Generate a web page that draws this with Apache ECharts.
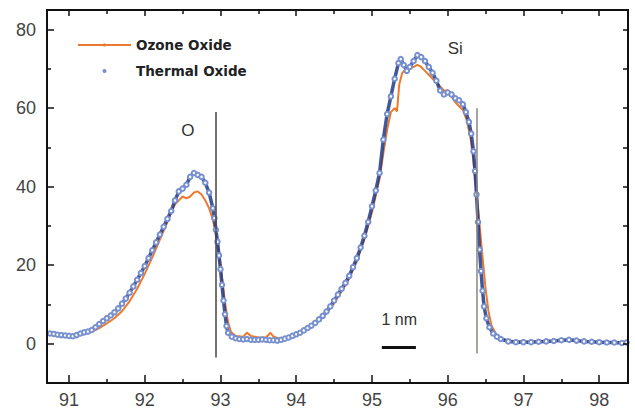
<!DOCTYPE html>
<html>
<head>
<meta charset="utf-8">
<script src="https://cdn.jsdelivr.net/npm/echarts@6/dist/echarts.min.js"></script>
<style>html,body{margin:0;padding:0;background:#fff;}#c{width:635px;height:416px;}</style>
</head>
<body>
<div id="c"></div>
<script>
// ---- data ----
const seriesNames = ['Ozone Oxide', 'Thermal Oxide'];
const xTickLabels = [91, 92, 93, 94, 95, 96, 97, 98];
const xMinorTicks = [91.5, 92.5, 93.5, 94.5, 95.5, 96.5, 97.5];
const yTickLabels = [0, 20, 40, 60, 80];
const yMinorTicks = [10, 30, 50, 70];
const yRightTicks = [0, 10, 20, 30, 40, 50, 60, 70, 80];

const thermalX = [90.70,90.75,90.80,90.85,90.90,90.95,91.00,91.05,91.10,91.15,91.20,91.25,91.30,91.35,91.40,91.45,91.50,91.55,91.60,91.65,91.70,91.75,91.80,91.85,91.90,91.95,92.00,92.05,92.10,92.15,92.20,92.25,92.30,92.35,92.40,92.45,92.50,92.55,92.60,92.65,92.70,92.75,92.80,92.85,92.90,92.92,92.94,92.96,92.98,93.00,93.02,93.04,93.06,93.08,93.10,93.15,93.20,93.25,93.30,93.35,93.40,93.45,93.50,93.55,93.60,93.65,93.70,93.75,93.80,93.85,93.90,93.95,94.00,94.05,94.10,94.15,94.20,94.25,94.30,94.35,94.40,94.45,94.50,94.55,94.60,94.65,94.70,94.75,94.80,94.85,94.90,94.95,95.00,95.05,95.10,95.15,95.20,95.25,95.30,95.35,95.38,95.42,95.46,95.50,95.55,95.60,95.65,95.70,95.75,95.80,95.85,95.90,95.95,96.00,96.05,96.10,96.15,96.20,96.24,96.28,96.31,96.34,96.36,96.38,96.40,96.42,96.44,96.46,96.48,96.51,96.55,96.60,96.65,96.70,96.80,96.90,97.00,97.10,97.20,97.30,97.40,97.50,97.60,97.70,97.80,97.90,98.00,98.10,98.20,98.30,98.36];
const thermalY = [2.8,2.6,2.5,2.3,2.2,2.1,2.0,1.9,2.2,2.6,2.9,3.1,3.5,4.2,5.0,5.8,6.5,7.2,8.0,9.0,10.2,11.5,13.0,14.6,16.3,18.0,19.8,21.8,23.8,25.8,27.8,29.8,31.8,33.8,36.5,38.8,39.5,40.5,42.5,43.5,43.0,42.5,41.0,38.5,34.5,32,29,26,22.5,19,15,11,7.5,4.5,2.8,1.8,1.4,1.2,1.1,1.2,1.0,1.0,1.0,1.1,1.0,0.9,0.9,0.8,1.0,1.3,1.6,2.0,2.4,2.8,3.4,4.0,4.6,5.3,6.2,7.1,8.2,9.5,11.0,12.5,14.0,15.5,17.3,19.5,21.8,24.5,27.5,31,35,39,43.5,52,58.5,63,67.5,71.5,72.5,71,69.5,70.5,72,73.5,73,72,70.5,69,67,64.5,63.5,64,63.5,62.5,62,61,59,56.5,53.5,49,44,38,31,24,18.5,13.5,9.5,6.5,4.2,2.6,1.8,1.2,0.6,0.4,0.4,0.4,0.5,0.6,0.7,0.9,1.0,0.8,0.6,0.5,0.4,0.3,0.3,0.2,0.3];

const ozoneX = [90.70,90.80,90.90,91.00,91.10,91.20,91.30,91.40,91.50,91.60,91.70,91.80,91.90,92.00,92.10,92.20,92.30,92.35,92.40,92.45,92.50,92.55,92.60,92.65,92.70,92.75,92.80,92.85,92.90,92.94,92.98,93.02,93.06,93.10,93.14,93.20,93.30,93.35,93.40,93.50,93.60,93.66,93.70,93.80,93.90,94.00,94.10,94.20,94.30,94.40,94.50,94.60,94.70,94.80,94.90,95.00,95.10,95.15,95.20,95.25,95.30,95.33,95.36,95.40,95.45,95.50,95.55,95.60,95.65,95.70,95.75,95.80,95.85,95.90,95.95,96.00,96.05,96.10,96.15,96.20,96.25,96.30,96.34,96.38,96.42,96.46,96.50,96.54,96.58,96.64,96.70,96.80,97.00,97.50,98.00,98.36];
const ozoneY = [2.5,2.2,2.0,1.8,2.0,2.5,3.0,4.0,5.2,6.5,8.3,10.8,14.0,17.8,22.0,26.5,31.0,33.5,35.5,36.5,37.5,37.0,37.5,38.5,38.8,38.0,36.5,34.5,31.5,28,23.5,17,10.5,5.5,3.0,2.0,1.8,2.8,2.0,1.6,1.6,2.8,1.8,1.2,1.6,2.2,3.2,4.4,5.9,7.8,10.3,13.3,16.6,21.0,26.5,33.5,42,48.5,54.5,59,60,59.2,66,69,70,70.5,70.5,71,70.5,69.5,68.5,67.5,66.5,65.5,64.5,64.5,63,61.5,60.5,59.5,57,52.5,46.5,39,30.5,22,14,8.0,4.5,2.4,1.5,0.8,0.5,0.8,0.4,0.3];

// annotations in data units
const oEdgeLine = [[92.94, 59], [92.94, -3.5]];
const siEdgeLine = [[96.38, 60], [96.38, -2.5]];
const scaleBar = [[95.13, -0.8], [95.58, -0.8]];
const textNotes = [['O', 92.57, 54.2], ['Si', 96.1, 75.2], ['1 nm', 95.36, 6.1]];

const X_MIN = 90.71, X_MAX = 98.38, Y_MIN = -10, Y_MAX = 85;

// layout (pixels)
const GRID = { left: 47, right: 7, top: 10, bottom: 33 };
const W = 635, H = 416;
const pxPerX = (W - GRID.left - GRID.right) / (X_MAX - X_MIN);
const pxPerY = (H - GRID.top - GRID.bottom) / (Y_MAX - Y_MIN);

const pair = (xs, ys) => xs.map((x, i) => [x, ys[i]]);

// tick segments expressed through the axis scales
const tickStyle = { color: '#111', width: 1.5, type: 'solid' };
const frameStyle = { color: '#111', width: 2, type: 'solid' };
const seg = (a, b, style) => [{ coord: a, lineStyle: style }, { coord: b }];
const tickLines = []
  .concat(xTickLabels.map(v => seg([v, Y_MIN], [v, Y_MIN + 8 / pxPerY], tickStyle)))
  .concat(xMinorTicks.map(v => seg([v, Y_MIN], [v, Y_MIN + 4 / pxPerY], tickStyle)))
  .concat(xTickLabels.map(v => seg([v, Y_MAX], [v, Y_MAX - 6 / pxPerY], tickStyle)))
  .concat(xMinorTicks.map(v => seg([v, Y_MAX], [v, Y_MAX - 4 / pxPerY], tickStyle)))
  .concat(yTickLabels.map(v => seg([X_MIN, v], [X_MIN + 7 / pxPerX, v], tickStyle)))
  .concat(yMinorTicks.map(v => seg([X_MIN, v], [X_MIN + 4 / pxPerX, v], tickStyle)))
  .concat(yRightTicks.map(v => seg([X_MAX, v], [X_MAX - 5 / pxPerX, v], tickStyle)))
  .concat([
    seg([X_MIN, Y_MAX], [X_MAX, Y_MAX], frameStyle),
    seg([X_MAX, Y_MIN], [X_MAX, Y_MAX], frameStyle),
    seg([X_MIN, Y_MIN], [X_MAX, Y_MIN], frameStyle),
    seg([X_MIN, Y_MIN], [X_MIN, Y_MAX], frameStyle)
  ]);

const annotationLines = [
  seg(oEdgeLine[0], oEdgeLine[1], { color: '#444', width: 1.5, type: 'solid' }),
  seg(siEdgeLine[0], siEdgeLine[1], { color: '#8c8580', width: 1.5, type: 'solid' }),
  seg(scaleBar[0], scaleBar[1], { color: '#111', width: 3, type: 'solid' })
];

const notePoints = textNotes.map(([t, x, y]) => ({
  coord: [x, y], symbol: 'circle', symbolSize: 1, itemStyle: { color: 'rgba(0,0,0,0)' },
  label: { show: true, position: 'inside', formatter: t, fontSize: t === '1 nm' ? 16 : 17, color: '#333', fontFamily: 'Liberation Sans' }
}));

const chart = echarts.init(document.getElementById('c'), null, { renderer: 'svg' });
chart.setOption({
  animation: false,
  grid: Object.assign({ show: true, borderColor: '#111', borderWidth: 2 }, GRID),
  xAxis: {
    type: 'value', min: X_MIN, max: X_MAX, splitNumber: 8,
    splitLine: { show: false },
    axisLine: { show: true, onZero: false, lineStyle: { color: '#111', width: 2 } },
    axisTick: { show: false },
    axisLabel: { customValues: xTickLabels, fontSize: 18, margin: 8, color: '#444', fontFamily: 'Liberation Sans' }
  },
  yAxis: {
    type: 'value', min: Y_MIN, max: Y_MAX, splitNumber: 5,
    splitLine: { show: false },
    axisLine: { show: true, onZero: false, lineStyle: { color: '#111', width: 2 } },
    axisTick: { show: false },
    axisLabel: { customValues: yTickLabels, fontSize: 18, margin: 11, color: '#444', fontFamily: 'Liberation Sans' }
  },
  legend: {
    orient: 'vertical', left: 72, top: 33,
    itemWidth: 53, itemHeight: 4, itemGap: 12,
    textStyle: { fontFamily: 'DejaVu Sans', fontWeight: 'bold', fontSize: 13.5, color: '#222' },
    data: [{ name: seriesNames[0] }, { name: seriesNames[1], icon: 'circle' }]
  },
  series: [
    {
      name: seriesNames[0], type: 'line', symbol: 'none', z: 2, clip: false,
      data: pair(ozoneX, ozoneY),
      lineStyle: { color: '#ec7a2e', width: 2 },
      itemStyle: { color: '#ec7a2e' },
      markLine: {
        silent: true, symbol: 'none', label: { show: false }, animation: false,
        data: annotationLines.concat(tickLines)
      },
      markPoint: {
        silent: true, animation: false,
        data: notePoints
      }
    },
    {
      name: seriesNames[1], type: 'line', z: 3,
      data: pair(thermalX, thermalY),
      symbol: 'emptyCircle', symbolSize: 4.5, showSymbol: true,
      lineStyle: { color: '#1f3a88', width: 3.5, opacity: 0.85 },
      itemStyle: { color: '#7890cf', borderWidth: 1.2 }
    }
  ]
});
</script>
</body>
</html>
